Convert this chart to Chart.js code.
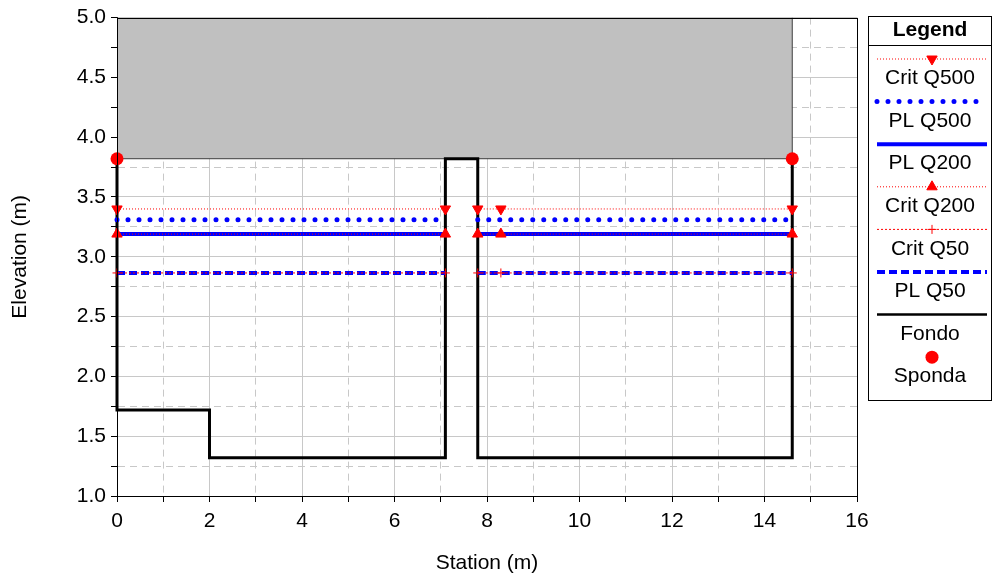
<!DOCTYPE html>
<html>
<head>
<meta charset="utf-8">
<script src="https://cdn.jsdelivr.net/npm/chart.js@4.4.1/dist/chart.umd.min.js"></script>
<style>
html, body { margin: 0; padding: 0; background: #fff; }
</style>
</head>
<body>
<canvas id="xs" width="993" height="576"></canvas>
<script>
// cross section (station m / elevation m)
var fondoX = [0, 0, 2, 2, 7.1, 7.1, 7.8, 7.8, 14.6, 14.6]
var fondoY = [3.82, 1.72, 1.72, 1.32, 1.32, 3.82, 3.82, 1.32, 1.32, 3.82]
var spondaX = [0, 14.6]
var spondaY = [3.82, 3.82]
var bankX = [0, 0, 14.6, 14.6]
var bankY = [5, 3.82, 3.82, 5]

// water surfaces, two reaches split by the pier
var leftReach = [0, 7.1]
var rightReach = [7.8, 8.3, 14.6]
var wsNames = ["Crit Q500", "PL Q500", "PL Q200", "Crit Q200", "Crit Q50", "PL Q50"]
var wsLevels = [3.40, 3.31, 3.19, 3.19, 2.865, 2.865]

// axis labels
var xLabels = [0, 2, 4, 6, 8, 10, 12, 14, 16]
var yLabels = ["1.0", "1.5", "2.0", "2.5", "3.0", "3.5", "4.0", "4.5", "5.0"]

var FONT = "'Liberation Sans', Arial, sans-serif"

function pts(xs, ys) {
  return xs.map((x, i) => ({x: x, y: ys[i]}))
}
function reach(level) {
  var out = leftReach.map(x => ({x: x, y: level}))
  out.push({x: (leftReach[leftReach.length - 1] + rightReach[0]) / 2, y: null})
  return out.concat(rightReach.map(x => ({x: x, y: level})))
}

var wsStyle = {
  "Crit Q500": {borderColor: "#ff0000", borderWidth: 1, borderDash: [1, 2], pointStyle: "triangle", rotation: 180, pointRadius: 6, order: 2},
  "PL Q500":   {borderColor: "#0000ff", borderWidth: 5, borderDash: [0, 11], borderCapStyle: "round", pointRadius: 0, order: 3},
  "PL Q200":   {borderColor: "#0000ff", borderWidth: 4, pointRadius: 0, order: 3},
  "Crit Q200": {borderColor: "#ff0000", borderWidth: 1, borderDash: [1, 2], pointStyle: "triangle", rotation: 0, pointRadius: 6, order: 2},
  "Crit Q50":  {borderColor: "#ff0000", borderWidth: 1, borderDash: [2, 2], pointStyle: "cross", rotation: 0, pointRadius: 4.5, order: 2},
  "PL Q50":    {borderColor: "#0000ff", borderWidth: 4, borderDash: [8, 4], pointRadius: 0, order: 3}
}

var datasets = wsNames.map((n, i) => {
  var s = wsStyle[n]
  return Object.assign({
    label: n,
    data: reach(wsLevels[i]),
    backgroundColor: s.borderColor,
    pointBackgroundColor: s.borderColor,
    pointBorderColor: s.borderColor,
    pointBorderWidth: 1,
    pointHoverRadius: 0,
    spanGaps: false,
    fill: false,
    clip: false,
    tension: 0
  }, s)
})

datasets.push({
  label: "Fondo", data: pts(fondoX, fondoY),
  borderColor: "#000000", borderWidth: 3, pointRadius: 0, fill: false, clip: false, order: 4
})
datasets.push({
  label: "Sponda", data: pts(spondaX, spondaY), showLine: false, clip: false,
  borderColor: "#ff0000", pointBackgroundColor: "#ff0000", pointBorderColor: "#ff0000",
  pointStyle: "circle", pointRadius: 6.5, pointBorderWidth: 0, order: 1
})
datasets.push({
  label: "bank", inLegend: false, data: pts(bankX, bankY),
  borderColor: "#3c3c3c", borderWidth: 1, backgroundColor: "#c0c0c0",
  pointRadius: 0, fill: "end", order: 5
})

function drawSample(ctx, ds, x0, x1, y) {
  ctx.save()
  if (ds.showLine !== false) {
    ctx.strokeStyle = ds.borderColor
    ctx.lineWidth = ds.label == "Fondo" ? 2.5 : ds.borderWidth
    ctx.setLineDash(ds.borderDash || [])
    ctx.lineCap = ds.borderCapStyle || "butt"
    ctx.beginPath()
    ctx.moveTo(x0, y)
    ctx.lineTo(x1, y)
    ctx.stroke()
  }
  if (ds.pointRadius > 0) {
    ctx.setLineDash([])
    ctx.fillStyle = ds.pointBackgroundColor
    ctx.strokeStyle = ds.pointBorderColor
    Chart.helpers.drawPoint(ctx, {
      pointStyle: ds.pointStyle, rotation: ds.rotation || 0,
      radius: ds.pointRadius, borderWidth: ds.pointBorderWidth || 0
    }, (x0 + x1) / 2, y)
  }
  ctx.restore()
}

var legendBox = {
  id: "legendBox",
  afterDraw(chart) {
    var ctx = chart.ctx, a = chart.chartArea
    ctx.save()
    // plot frame
    ctx.strokeStyle = "#000"
    ctx.lineWidth = 1
    ctx.strokeRect(Math.round(a.left) + 0.5, Math.round(a.top) + 0.5,
      Math.round(a.right - a.left), Math.round(a.bottom - a.top))

    var L = 868, R = 992, T = 16, B = 400
    ctx.strokeRect(L + 0.5, T + 0.5, R - L - 1, B - T)
    ctx.beginPath()
    ctx.moveTo(L, 45.5); ctx.lineTo(R, 45.5)
    ctx.stroke()
    ctx.fillStyle = "#000"
    ctx.textAlign = "center"
    ctx.textBaseline = "middle"
    ctx.font = "bold 21px " + FONT
    ctx.fillText("Legend", (L + R) / 2, 30)
    ctx.font = "21px " + FONT
    var items = chart.data.datasets.filter(d => d.inLegend !== false)
    items.forEach((d, i) => {
      var y = 59 + i * 42.6
      drawSample(ctx, d, 877, 987, y)
      ctx.fillStyle = "#000"
      ctx.fillText(d.label, (L + R) / 2, y + 19.5)
    })
    ctx.restore()
  }
}

var tickFont = {family: FONT, size: 21}

new Chart("xs", {
  type: "line",
  data: {datasets: datasets},
  options: {
    responsive: false,
    devicePixelRatio: 1,
    animation: false,
    events: [],
    layout: {padding: {left: 0, right: 136, top: 16, bottom: 0}},
    plugins: {legend: {display: false}, tooltip: {enabled: false}},
    scales: {
      x: {
        type: "linear", min: 0, max: 16,
        afterFit: s => { s.height = 80 },
        ticks: {
          stepSize: 1, autoSkip: false, maxRotation: 0, color: "#000", font: tickFont, padding: 7,
          callback: v => xLabels.indexOf(v) >= 0 ? String(v) : ""
        },
        grid: {
          color: "#c8c8c8", lineWidth: 1, tickColor: "#000", tickLength: 6,
          drawTicks: true
        },
        border: {
          color: "#000", width: 1,
          dash: c => (c.tick && c.tick.value % 2) ? [7, 5] : []
        },
        title: {display: true, text: "Station (m)", color: "#000", font: tickFont, padding: {top: 0, bottom: 0}}
      },
      y: {
        min: 1, max: 5,
        afterFit: s => { s.width = 117 },
        ticks: {
          stepSize: 0.25, autoSkip: false, color: "#000", font: tickFont, padding: 5,
          callback: v => {
            var t = v.toFixed(1)
            return (Math.round(v * 4) % 2 == 0 && yLabels.indexOf(t) >= 0) ? t : ""
          }
        },
        grid: {color: "#c8c8c8", lineWidth: 1, tickColor: "#000", tickLength: 6},
        border: {
          color: "#000", width: 1,
          dash: c => (c.tick && Math.round(c.tick.value * 4) % 2) ? [7, 5] : []
        },
        title: {display: true, text: "Elevation (m)", color: "#000", font: tickFont, padding: {top: 8, bottom: 0}}
      }
    }
  },
  plugins: [legendBox]
})
</script>
</body>
</html>
